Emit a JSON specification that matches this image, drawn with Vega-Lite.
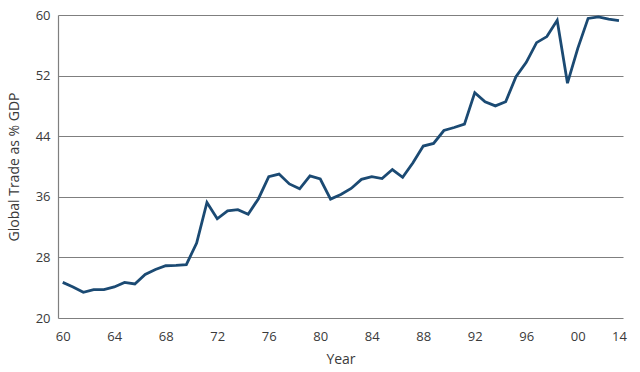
{
  "$schema": "https://vega.github.io/schema/vega-lite/v6.json",
  "width": 565,
  "height": 303,
  "autosize": {"type": "none"},
  "padding": {"left": 58, "top": 15, "right": 17, "bottom": 54},
  "background": "white",
  "config": {
    "view": {"stroke": null},
    "font": "Open Sans",
    "axis": {"labelFont": "Open Sans", "titleFont": "Open Sans", "labelColor": "#3a3a3a", "titleColor": "#3a3a3a", "labelFontSize": 13, "titleFontSize": 14, "titleFontWeight": "normal"}
  },
  "data": {
    "values": [
      {"year": 1960, "trade": 24.7},
      {"year": 1961, "trade": 24.1},
      {"year": 1962, "trade": 23.4},
      {"year": 1963, "trade": 23.75},
      {"year": 1964, "trade": 23.75},
      {"year": 1965, "trade": 24.1},
      {"year": 1966, "trade": 24.7},
      {"year": 1967, "trade": 24.5},
      {"year": 1968, "trade": 25.75},
      {"year": 1969, "trade": 26.4},
      {"year": 1970, "trade": 26.9},
      {"year": 1971, "trade": 26.95},
      {"year": 1972, "trade": 27.05},
      {"year": 1973, "trade": 29.9},
      {"year": 1974, "trade": 35.25},
      {"year": 1975, "trade": 33.1},
      {"year": 1976, "trade": 34.15},
      {"year": 1977, "trade": 34.3},
      {"year": 1978, "trade": 33.7},
      {"year": 1979, "trade": 35.75},
      {"year": 1980, "trade": 38.65},
      {"year": 1981, "trade": 39.0},
      {"year": 1982, "trade": 37.7},
      {"year": 1983, "trade": 37.05},
      {"year": 1984, "trade": 38.75},
      {"year": 1985, "trade": 38.35},
      {"year": 1986, "trade": 35.7},
      {"year": 1987, "trade": 36.3},
      {"year": 1988, "trade": 37.1},
      {"year": 1989, "trade": 38.3},
      {"year": 1990, "trade": 38.65},
      {"year": 1991, "trade": 38.4},
      {"year": 1992, "trade": 39.6},
      {"year": 1993, "trade": 38.57},
      {"year": 1994, "trade": 40.5},
      {"year": 1995, "trade": 42.7},
      {"year": 1996, "trade": 43.05},
      {"year": 1997, "trade": 44.75},
      {"year": 1998, "trade": 45.15},
      {"year": 1999, "trade": 45.6},
      {"year": 2000, "trade": 49.75},
      {"year": 2001, "trade": 48.55},
      {"year": 2002, "trade": 48.0},
      {"year": 2003, "trade": 48.55},
      {"year": 2004, "trade": 51.85},
      {"year": 2005, "trade": 53.75},
      {"year": 2006, "trade": 56.35},
      {"year": 2007, "trade": 57.15},
      {"year": 2008, "trade": 59.3},
      {"year": 2009, "trade": 51.0},
      {"year": 2010, "trade": 55.6},
      {"year": 2011, "trade": 59.55},
      {"year": 2012, "trade": 59.75},
      {"year": 2013, "trade": 59.45},
      {"year": 2014, "trade": 59.25}
    ]
  },
  "mark": {"type": "line", "color": "#1b4a73", "strokeWidth": 2.8, "strokeJoin": "miter"},
  "encoding": {
    "x": {
      "field": "year",
      "type": "quantitative",
      "scale": {"domain": [1959.54, 2014.39], "nice": false, "zero": false},
      "axis": {
        "title": "Year",
        "values": [1960, 1965, 1970, 1975, 1980, 1985, 1990, 1995, 2000, 2005, 2010, 2014],
        "labelExpr": "['60','64','68','72','76','80','84','88','92','96','00','14'][datum.value == 2014 ? 11 : (datum.value - 1960) / 5]",
        "grid": false,
        "domain": false,
        "ticks": false,
        "labelPadding": 12,
        "titlePadding": 9,
        "labelFlush": false,
        "labelOverlap": false
      }
    },
    "y": {
      "field": "trade",
      "type": "quantitative",
      "scale": {"domain": [20, 60], "nice": false, "zero": false},
      "axis": {
        "title": "Global Trade as % GDP",
        "values": [20, 28, 36, 44, 52, 60],
        "grid": true,
        "gridColor": "#7f7f7f",
        "gridWidth": 1.2,
        "domain": true,
        "domainColor": "#7f7f7f",
        "domainWidth": 1.2,
        "ticks": false,
        "labelPadding": 8,
        "titlePadding": 14,
        "labelFlush": false
      }
    }
  }
}
